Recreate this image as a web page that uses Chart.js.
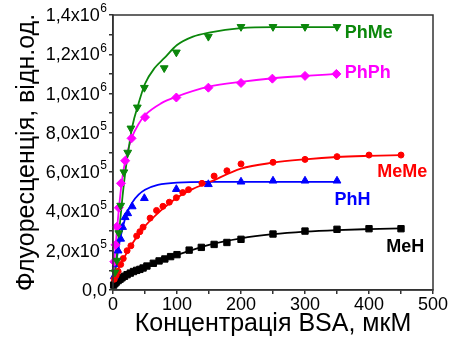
<!DOCTYPE html>
<html>
<head>
<meta charset="utf-8">
<script src="https://cdn.jsdelivr.net/npm/chart.js@4/dist/chart.umd.min.js"></script>
<style>
  html, body { margin: 0; padding: 0; background: #fff; }
  #wrap { width: 449px; height: 343px; }
</style>
</head>
<body>
<div id="wrap"><canvas id="bsachart" width="449" height="343"></canvas></div>
<script>
// measured points (x in uM, y in a.u.)
const phMeX = [3, 6, 9, 12, 17, 23, 28, 38, 49, 80, 99, 149, 200, 250, 300, 350];
const phMeY = [0.9e5, 1.5e5, 2.9e5, 4.3e5, 6.0e5, 7.0e5, 8.23e5, 9.3e5, 10.3e5, 11.3e5, 12.1e5, 12.9e5, 13.4e5, 13.4e5, 13.4e5, 13.4e5];

const phPhX = [2, 4, 6, 9, 12.5, 19, 29, 50, 99, 149, 200, 249, 300, 349];
const phPhY = [1.44e5, 2.3e5, 3.22e5, 4.19e5, 5.43e5, 6.58e5, 7.72e5, 8.8e5, 9.8e5, 10.3e5, 10.54e5, 10.76e5, 10.9e5, 11.0e5];

const meMeX = [2, 5, 8, 12, 16, 22, 28, 37, 42, 47, 58, 68, 78, 88, 99, 109, 118, 139, 158, 178, 200, 250, 300, 350, 400, 450];
const meMeY = [0.55e5, 0.75e5, 0.95e5, 1.3e5, 1.6e5, 2.0e5, 2.25e5, 2.75e5, 2.97e5, 3.2e5, 3.66e5, 4.05e5, 4.26e5, 4.47e5, 4.7e5, 4.96e5, 5.11e5, 5.43e5, 5.8e5, 6.07e5, 6.42e5, 6.5e5, 6.65e5, 6.79e5, 6.87e5, 6.87e5];

const phHX = [2, 5, 8, 12, 15, 19, 23, 30, 49, 99, 149, 200, 250, 300, 350];
const phHY = [0.7e5, 1.3e5, 2.0e5, 2.6e5, 3.2e5, 3.7e5, 3.9e5, 4.25e5, 4.67e5, 5.13e5, 5.38e5, 5.51e5, 5.56e5, 5.56e5, 5.56e5];

const meHX = [1, 3, 5, 8, 11, 14, 18, 22, 27, 32, 37, 42, 47, 53, 63, 72, 81, 90, 100, 119, 138, 158, 178, 200, 250, 300, 350, 400, 450];
const meHY = [0.25e5, 0.33e5, 0.4e5, 0.48e5, 0.55e5, 0.62e5, 0.7e5, 0.78e5, 0.86e5, 0.94e5, 1.0e5, 1.05e5, 1.12e5, 1.22e5, 1.36e5, 1.48e5, 1.58e5, 1.7e5, 1.8e5, 2.03e5, 2.17e5, 2.32e5, 2.42e5, 2.58e5, 2.85e5, 3.0e5, 3.09e5, 3.12e5, 3.12e5];

// fitted curves
const phMeFitX = [0, 5, 10, 15, 20, 25, 30, 40, 50, 65, 80, 100, 125, 150, 200, 250, 300, 350];
const phMeFitY = [0, 1.4e5, 3.1e5, 4.8e5, 6.2e5, 7.3e5, 8.3e5, 9.5e5, 10.5e5, 11.3e5, 11.8e5, 12.47e5, 12.9e5, 13.1e5, 13.33e5, 13.38e5, 13.38e5, 13.38e5];

const phPhFitX = [0, 5, 10, 15, 20, 30, 40, 50, 75, 100, 150, 200, 250, 300, 350];
const phPhFitY = [0.6e5, 2.6e5, 4.4e5, 5.8e5, 6.7e5, 7.8e5, 8.45e5, 8.9e5, 9.5e5, 9.85e5, 10.35e5, 10.6e5, 10.78e5, 10.9e5, 11.0e5];

const meMeFitX = [0, 10, 20, 30, 50, 75, 100, 125, 150, 200, 250, 300, 350, 400, 450];
const meMeFitY = [0.5e5, 1.2e5, 1.8e5, 2.35e5, 3.25e5, 4.05e5, 4.7e5, 5.15e5, 5.48e5, 6.18e5, 6.48e5, 6.65e5, 6.77e5, 6.83e5, 6.87e5];

const phHFitX = [0, 5, 10, 15, 20, 30, 40, 50, 70, 100, 150, 200, 250, 300, 350];
const phHFitY = [0.3e5, 1.4e5, 2.4e5, 3.15e5, 3.75e5, 4.45e5, 4.85e5, 5.1e5, 5.35e5, 5.47e5, 5.5e5, 5.5e5, 5.5e5, 5.5e5, 5.5e5];

const meHFitX = [0, 10, 20, 35, 50, 75, 100, 150, 200, 250, 300, 350, 400, 450];
const meHFitY = [0.15e5, 0.45e5, 0.68e5, 0.95e5, 1.17e5, 1.5e5, 1.78e5, 2.3e5, 2.63e5, 2.84e5, 2.97e5, 3.05e5, 3.1e5, 3.14e5];

const seriesNames = ['PhMe', 'PhPh', 'MeMe', 'PhH', 'MeH'];

const FONT = "'Liberation Sans', Arial, sans-serif";

function pts(xs, ys) {
  return xs.map((x, i) => ({x: x, y: ys[i]}));
}

function marks(label, xs, ys, color, style, rot) {
  return {
    label: label,
    data: pts(xs, ys),
    showLine: false,
    pointStyle: style,
    rotation: rot || 0,
    pointRadius: style === 'circle' ? 3 : 4.5,
    pointBackgroundColor: color,
    pointBorderColor: color,
    pointBorderWidth: 1,
    order: 1
  };
}

function fit(xs, ys, color) {
  return {
    data: pts(xs, ys),
    showLine: true,
    borderColor: color,
    borderWidth: 1.8,
    pointRadius: 0,
    cubicInterpolationMode: 'monotone',
    fill: false,
    order: 2
  };
}

// y tick text: mantissa "m,mx10" with a raised exponent, drawn by hand
function yParts(v) {
  const n = Math.round(v / 1e5);
  if (n % 2 !== 0) return null;
  if (n === 0) return ['0,0', ''];
  let exp = 5, m = n;
  if (n >= 10) { exp = 6; m = n / 10; }
  return [m.toFixed(1).replace('.', ',') + 'x10', String(exp)];
}

const yTickText = {
  id: 'yTickText',
  afterDraw(chart) {
    const {ctx, scales: {y}} = chart;
    const right = y.right - 6;
    ctx.save();
    ctx.fillStyle = '#000';
    ctx.textBaseline = 'middle';
    ctx.textAlign = 'right';
    y.ticks.forEach(t => {
      const p = yParts(t.value);
      if (!p) return;
      const py = y.getPixelForValue(t.value);
      let x = right;
      if (p[1]) {
        ctx.font = '12px ' + FONT;
        ctx.fillText(p[1], x, py - 6);
        x -= ctx.measureText(p[1]).width + 0.5;
      }
      ctx.font = '18px ' + FONT;
      ctx.fillText(p[0], x, py + 1);
    });
    ctx.restore();
  }
};

// curve names next to the line ends (data coords)
const curveLabels = {
  id: 'curveLabels',
  afterDatasetsDraw(chart) {
    const {ctx, scales: {x, y}} = chart;
    const spots = [
      ['PhMe', 362, 13.1e5, '#0b870b'],
      ['PhPh', 362, 11.05e5, '#ff00ff'],
      ['MeMe', 413, 6.0e5, '#ff0000'],
      ['PhH', 346, 4.58e5, '#0000ff'],
      ['MeH', 427, 2.2e5, '#000000']
    ];
    ctx.save();
    ctx.font = 'bold 18px ' + FONT;
    ctx.textAlign = 'left';
    ctx.textBaseline = 'middle';
    spots.forEach(s => {
      ctx.fillStyle = s[3];
      ctx.fillText(s[0], x.getPixelForValue(s[1]), y.getPixelForValue(s[2]));
    });
    ctx.restore();
  }
};

const frame = {
  id: 'frame',
  afterDraw(chart) {
    const a = chart.chartArea, ctx = chart.ctx;
    ctx.save();
    ctx.strokeStyle = '#333';
    ctx.lineWidth = 1.5;
    ctx.strokeRect(a.left, a.top, a.right - a.left, a.bottom - a.top);
    ctx.restore();
  }
};

const ctx = document.getElementById('bsachart').getContext('2d');

new Chart(ctx, {
  type: 'scatter',
  data: {
    datasets: [
      marks(seriesNames[0], phMeX, phMeY, '#0b870b', 'triangle', 180),
      fit(phMeFitX, phMeFitY, '#0b870b'),
      marks(seriesNames[1], phPhX, phPhY, '#ff00ff', 'rectRot'),
      fit(phPhFitX, phPhFitY, '#ff00ff'),
      marks(seriesNames[2], meMeX, meMeY, '#ff0000', 'circle'),
      fit(meMeFitX, meMeFitY, '#ff0000'),
      marks(seriesNames[3], phHX, phHY, '#0000ff', 'triangle'),
      fit(phHFitX, phHFitY, '#0000ff'),
      marks(seriesNames[4], meHX, meHY, '#000000', 'rect'),
      fit(meHFitX, meHFitY, '#000000')
    ]
  },
  options: {
    responsive: false,
    animation: false,
    clip: false,
    layout: { padding: { top: 15, right: 16, left: 0, bottom: 0 } },
    plugins: {
      legend: { display: false },
      tooltip: { enabled: false }
    },
    scales: {
      x: {
        type: 'linear',
        min: 0,
        max: 500,
        afterFit(s) { s.height = 53; },
        ticks: {
          stepSize: 50,
          autoSkip: false,
          maxRotation: 0,
          minRotation: 0,
          color: '#000',
          padding: 0,
          font: { family: FONT, size: 18 },
          callback: v => (v % 100 === 0 ? String(v) : '')
        },
        grid: { drawOnChartArea: false, drawTicks: true, tickLength: 4, color: '#333', lineWidth: 1.5 },
        border: { display: true, color: '#333', width: 1.5 },
        title: {
          display: true,
          text: 'Концентрація BSA, мкМ',
          color: '#000',
          font: { family: FONT, size: 25 },
          padding: { top: 0, bottom: 4 }
        }
      },
      y: {
        type: 'linear',
        min: 0,
        max: 1.4e6,
        afterFit(s) { s.width = 113; },
        ticks: {
          stepSize: 1e5,
          autoSkip: false,
          color: '#000',
          padding: 1,
          font: { family: FONT, size: 18 },
          callback: () => ''
        },
        grid: { drawOnChartArea: false, drawTicks: true, tickLength: 4, color: '#333', lineWidth: 1.5 },
        border: { display: true, color: '#333', width: 1.5 },
        title: {
          display: true,
          text: 'Флуоресценція, відн.од.',
          color: '#000',
          font: { family: FONT, size: 25 },
          padding: { top: 12, bottom: 0 }
        }
      }
    }
  },
  plugins: [yTickText, curveLabels, frame]
});
</script>
</body>
</html>
